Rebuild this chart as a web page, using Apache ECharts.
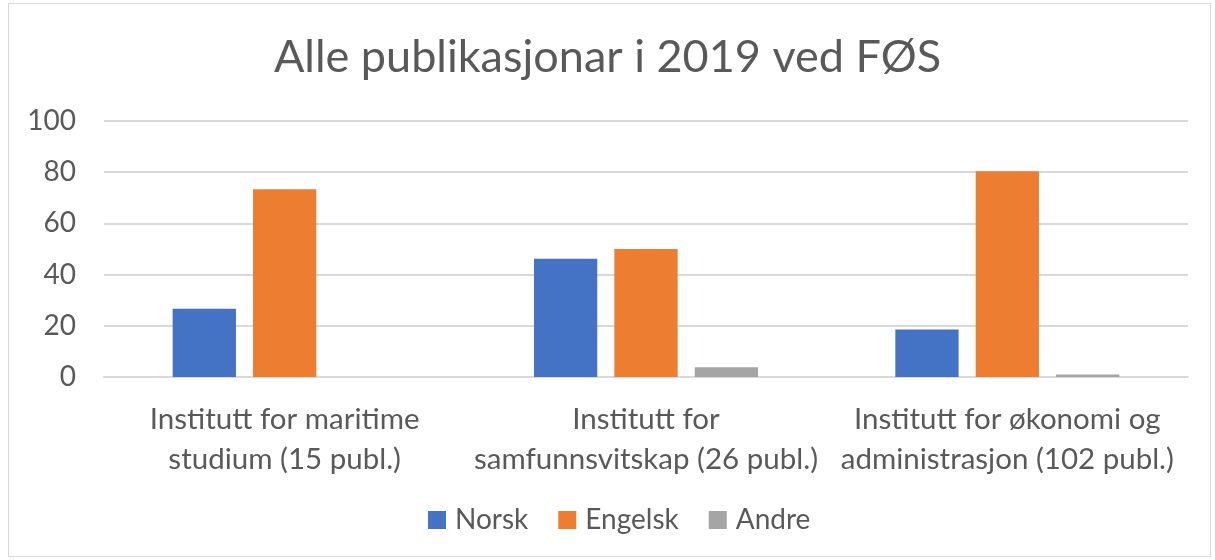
<!DOCTYPE html>
<html><head><meta charset="utf-8">
<script src="https://cdn.jsdelivr.net/npm/echarts@6/dist/echarts.min.js"></script>
<style>html,body{margin:0;padding:0;background:#fff}#c{width:1215px;height:560px}
#frame{position:absolute;left:8px;top:3px;width:1203px;height:554px;border:1px solid #d9d9d9;box-sizing:border-box;pointer-events:none}</style>
</head><body><div id="c"></div><div id="frame"></div>
<script>
const title = "Alle publikasjonar i 2019 ved FØS";
const categories = ["Institutt for maritime\nstudium (15 publ.)", "Institutt for\nsamfunnsvitskap (26 publ.)", "Institutt for økonomi og\nadministrasjon (102 publ.)"];
const norsk = [26.7, 46.2, 18.6];
const engelsk = [73.3, 50.0, 80.4];
const andre = [0, 3.8, 1.0];
const yTicks = {min: 0, max: 100, interval: 20};
const FONT = "Lato";
const chart = echarts.init(document.getElementById('c'));
chart.setOption({
  animation: false,
  title: {text: title, left: 'center', top: 30, textStyle: {fontFamily: FONT, fontSize: 45, fontWeight: 'normal', color: '#595959'}},
  legend: {bottom: 21, left: 423, itemWidth: 18, itemHeight: 18, itemGap: 30, icon: 'rect',
    textStyle: {fontFamily: FONT, fontSize: 28, color: '#595959', padding: [0, 0, 0, 4]}},
  grid: {left: 104, right: 27, top: 121, bottom: 183, containLabel: false},
  xAxis: {type: 'category', data: categories,
    axisLine: {lineStyle: {color: '#d9d9d9', width: 2}}, axisTick: {show: false},
    axisLabel: {fontFamily: FONT, fontSize: 29.5, color: '#595959', lineHeight: 40, margin: 22, interval: 0}},
  yAxis: {type: 'value', min: yTicks.min, max: yTicks.max, interval: yTicks.interval,
    axisLine: {show: false}, axisTick: {show: false},
    splitLine: {lineStyle: {color: '#d9d9d9', width: 2}},
    axisLabel: {fontFamily: FONT, fontSize: 28, color: '#595959', margin: 28}},
  series: [
    {name: 'Norsk', type: 'bar', data: norsk, itemStyle: {color: '#4472C4'}, barGap: '27%', barCategoryGap: '38%'},
    {name: 'Engelsk', type: 'bar', data: engelsk, itemStyle: {color: '#ED7D31'}},
    {name: 'Andre', type: 'bar', data: andre, itemStyle: {color: '#A5A5A5'}}
  ]
});
</script></body></html>
